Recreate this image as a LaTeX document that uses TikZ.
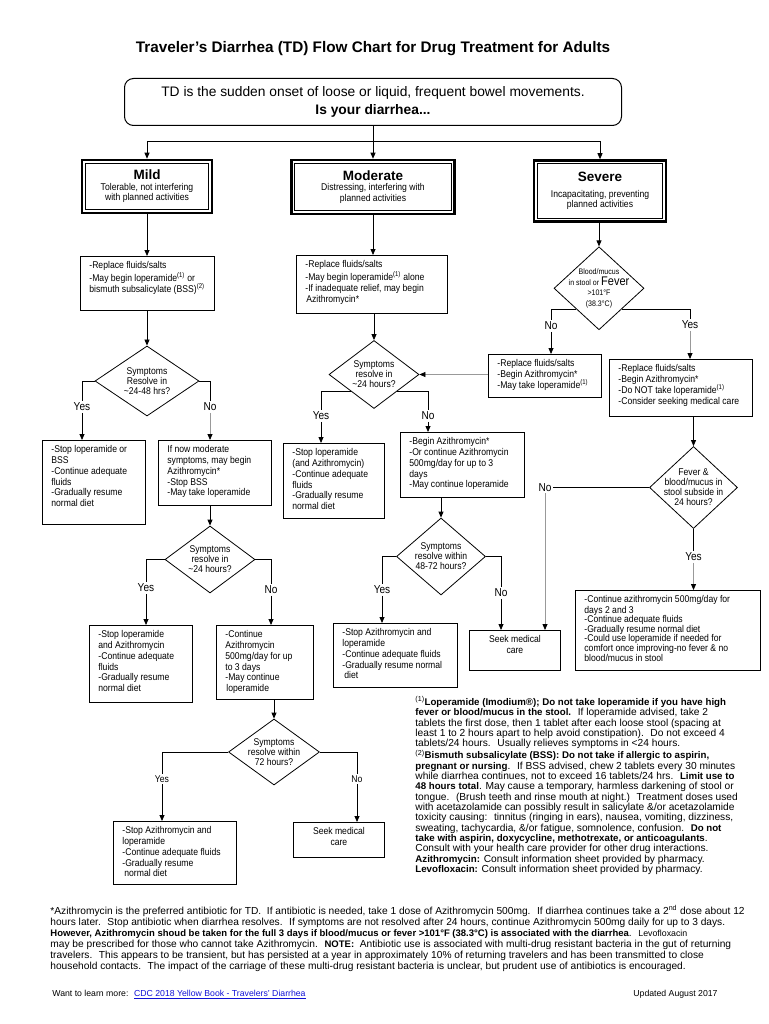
\documentclass[tikz,border=0pt]{standalone}
\usepackage{fontspec}
\setmainfont{Liberation Sans}
\newfontfamily\nar[FakeStretch=0.88]{Liberation Sans}
\usetikzlibrary{shapes,arrows.meta,calc}
\definecolor{linkblue}{RGB}{16,16,214}
\newcommand{\boxtxt}[4][\raggedright]{\parbox[t][#3pt][t]{#2pt}{#1\strut#4}}
\newcommand{\supn}[1]{\textsuperscript{#1}}
\newcommand{\bft}[2][9.7]{{\fontsize{#1}{10}\selectfont\bfseries #2}}

\begin{document}
\begin{tikzpicture}
  [x=1pt,y=-1pt,line width=.8pt,
   boxN/.style={draw,anchor=north west,inner xsep=9pt,inner ysep=4.7pt,font=\nar\fontsize{9.8}{10.8}\selectfont},
   lvlN/.style={draw,line width=2.6pt,align=center,font=\nar\fontsize{9.8}{10.6}\selectfont},
   decN/.style={diamond,draw,inner sep=-8pt,align=center,font=\nar\fontsize{9.8}{10}\selectfont},
   ansN/.style={inner sep=1.5pt,font=\nar\fontsize{11.5}{12}\selectfont},
   noteN/.style={anchor=base west,inner sep=0pt},
   arr/.style={-{Triangle[length=6pt,width=5pt]}},
   garr/.style={draw=black!40,-{Triangle[length=6pt,width=5pt,color=black]}},
  ]
  \useasboundingbox (0,0) rectangle (768,1024);

  \node[font=\bfseries\fontsize{15.3}{18}\selectfont] (title) at (373,49)
    {Traveler's Diarrhea (TD) Flow Chart for Drug Treatment for Adults};
  \node[draw,line width=1pt,rounded corners=9pt,minimum width=497pt,minimum height=47pt,
    align=center,font=\fontsize{13.8}{17.6}\selectfont] (intro) at (373,102)
    {TD is the sudden onset of loose or liquid, frequent bowel movements.\\
     \textbf{Is your diarrhea...}};

  \node[lvlN,minimum width=130pt,minimum height=53pt] (mild) at (147,186.5)
    {{\normalfont\bfseries\fontsize{13.5}{14}\selectfont Mild}\\Tolerable, not interfering\\with planned activities};
  \node[lvlN,minimum width=163pt,minimum height=54pt] (moderate) at (373,187)
    {{\normalfont\bfseries\fontsize{13.5}{14}\selectfont Moderate}\\Distressing, interfering with\\planned activities};
  \node[lvlN,minimum width=132pt,minimum height=61pt] (severe) at (600,191)
    {{\normalfont\bfseries\fontsize{13.5}{14}\selectfont Severe}\\[5pt]Incapacitating, preventing\\planned activities};
  \foreach \n in {mild,moderate,severe}
    \draw[line width=.7pt] ([shift={(4.6pt,-4.6pt)}]\n.north west) rectangle ([shift={(-4.6pt,4.6pt)}]\n.south east);

  \node[boxN] (mtreat) at (80,256) {\boxtxt{116}{44.6}{-Replace fluids/salts\\-May begin loperamide\supn{(1)} or\\bismuth subsalicylate (BSS)\supn{(2)}}};
  \node[decN,minimum width=104pt,minimum height=70pt] (d1) at (147,381) {Symptoms\\Resolve in\\\textasciitilde24-48 hrs?};
  \node[ansN] (y1) at (82,407) {Yes};
  \node[ansN] (n1) at (210,407) {No};
  \node[boxN] (myes) at (42,440) {\boxtxt{85}{74.6}{-Stop loperamide or\\BSS\\-Continue adequate\\fluids\\-Gradually resume\\normal diet}};
  \node[boxN] (mno) at (158,440) {\boxtxt{95}{55.6}{If now moderate\\symptoms, may begin\\Azithromycin*\\-Stop BSS\\-May take loperamide}};
  \node[decN,minimum width=90pt,minimum height=67pt] (d6) at (210,559.5) {Symptoms\\resolve in\\\textasciitilde24 hours?};
  \node[ansN] (y2) at (146,588) {Yes};
  \node[ansN] (n2) at (271,590) {No};
  \node[boxN] (mnoyes) at (89,625) {\boxtxt{85}{67.6}{-Stop loperamide\\and Azithromycin\\-Continue adequate\\fluids\\-Gradually resume\\normal diet}};
  \node[boxN] (mnono) at (216,625) {\boxtxt{79}{64.6}{-Continue\\Azithromycin\\500mg/day for up\\to 3 days\\-May continue\\\hspace*{1pt}loperamide}};
  \node[decN,minimum width=91pt,minimum height=66pt] (d7) at (274,752) {Symptoms\\resolve within\\72 hours?};
  \node[ansN,font=\nar\fontsize{9.8}{10}\selectfont] (y3) at (162,779) {Yes};
  \node[ansN,font=\nar\fontsize{9.8}{10}\selectfont] (n3) at (357,779) {No};
  \node[boxN] (botyes) at (113,821) {\boxtxt{105}{53.6}{-Stop Azithromycin and\\loperamide\\-Continue adequate fluids\\-Gradually resume\\\hspace*{2pt}normal diet}};
  \node[boxN] (botno) at (293,822) {\boxtxt[\centering]{73}{25.6}{Seek medical\\care}};

  \node[boxN] (modtreat) at (296,255) {\boxtxt{133}{48.6}{-Replace fluids/salts\\-May begin loperamide\supn{(1)} alone\\-If inadequate relief, may begin\\\hspace*{1pt}Azithromycin*}};
  \node[decN,minimum width=90pt,minimum height=68pt] (d2) at (374,374.5) {Symptoms\\resolve in\\\textasciitilde24 hours?};
  \node[ansN] (y4) at (321,416) {Yes};
  \node[ansN] (n4) at (428,416) {No};
  \node[boxN] (modyes) at (283,443) {\boxtxt{83}{65.6}{-Stop loperamide\\(and Azithromycin)\\-Continue adequate\\fluids\\-Gradually resume\\normal diet}};
  \node[boxN] (modno) at (400,432) {\boxtxt{106}{55.6}{-Begin Azithromycin*\\-Or continue Azithromycin\\500mg/day for up to 3\\days\\-May continue loperamide}};
  \node[decN,minimum width=89pt,minimum height=77pt] (d5) at (441,556.5) {Symptoms\\resolve within\\48-72 hours?};
  \node[ansN] (y5) at (382,590) {Yes};
  \node[ansN] (n5) at (501,593) {No};
  \node[boxN] (modyes2) at (333,623) {\boxtxt{106}{54.6}{-Stop Azithromycin and\\loperamide\\-Continue adequate fluids\\-Gradually resume normal\\\hspace*{2pt}diet}};
  \node[boxN] (seek) at (469,630) {\boxtxt[\centering]{73}{30.6}{Seek medical\\care}};

  \node[decN,minimum width=90pt,minimum height=83pt,font=\nar\fontsize{8}{10.7}\selectfont] (d3) at (599,288.3)
    {Blood/mucus\\in stool or {\fontsize{12.5}{10.7}\selectfont Fever}\\>101°F\\(38.3°C)};
  \node[ansN] (n6) at (551,326) {No};
  \node[ansN] (y6) at (690,325) {Yes};
  \node[boxN] (sevno) at (488,354) {\boxtxt{95}{33.6}{-Replace fluids/salts\\-Begin Azithromycin*\\-May take loperamide\supn{(1)}}};
  \node[boxN] (sevyes) at (609,359) {\boxtxt{125}{47.6}{-Replace fluids/salts\\-Begin Azithromycin*\\-Do NOT take loperamide\supn{(1)}\\-Consider seeking medical care}};
  \node[decN,minimum width=88pt,minimum height=82pt] (d4) at (693.5,487.5) {Fever \&\\blood/mucus in\\stool subside in\\24 hours?};
  \node[ansN] (n7) at (545,487.5) {No};
  \node[ansN] (y7) at (693.5,557) {Yes};
  \node[boxN,font=\nar\fontsize{9.8}{9.6}\selectfont] (sevfinal) at (575,590) {\boxtxt{167}{70.6}{-Continue azithromycin 500mg/day for\\days 2 and 3\\-Continue adequate fluids\\-Gradually resume normal diet\\-Could use loperamide if needed for\\comfort once improving-no fever \& no\\blood/mucus in stool}};

  \coordinate (fork) at ($(intro.south)+(0,15)$);
  \draw[arr] (intro) -- (moderate);
  \draw[arr] (fork) -| (mild);
  \draw[arr] (fork) -| (severe);

  \draw[arr] (mild) -- (mild |- mtreat.north);
  \draw[arr] (d1.north |- mtreat.south) -- (d1);
  \draw (d1.west) -| (y1);
  \draw (d1.east) -| (n1);
  \draw[arr] (y1) -- (y1 |- myes.north);
  \draw[garr] (n1) -- (n1 |- mno.north);
  \draw[arr] (d6.north |- mno.south) -- (d6);
  \draw (d6.west) -| (y2);
  \draw (d6.east) -| (n2);
  \draw[arr] (y2) -- (y2 |- mnoyes.north);
  \draw[arr] (n2) -- (n2 |- mnono.north);
  \draw[arr] (d7.north |- mnono.south) -- (d7);
  \draw (d7.west) -| (y3);
  \draw (d7.east) -| (n3);
  \draw[arr] (y3) -- (y3 |- botyes.north);
  \draw[arr] (n3) -- (n3 |- botno.north);

  \draw[arr] (moderate) -- (moderate |- modtreat.north);
  \draw[arr] (d2.north |- modtreat.south) -- (d2);
  \draw (d2.south west) -| (y4);
  \draw (d2.south east) -| (n4);
  \draw[arr] (y4) -- (y4 |- modyes.north);
  \draw[arr] (n4) -- (n4 |- modno.north);
  \draw[arr] (d5.north |- modno.south) -- (d5);
  \draw (d5.west) -| (y5);
  \draw (d5.east) -| (n5);
  \draw[arr] (y5) -- (y5 |- modyes2.north);
  \draw[arr] (n5) -- (n5 |- seek.north);

  \draw[arr] (d3.north |- severe.south) -- (d3);
  \draw (d3.south west) -| (n6);
  \draw (d3.south east) -| (y6);
  \draw[arr] (n6) -- (n6 |- sevno.north);
  \draw[garr] (y6) -- (y6 |- sevyes.north);
  \draw[garr] (sevno.west |- d2.east) -- (d2.east);
  \draw[arr] (d4.north |- sevyes.south) -- (d4);
  \draw (d4.west) -- (n7);
  \draw[garr] (n7) -- (n7 |- seek.north);
  \draw (d4) -- (y7);
  \draw[garr] (y7) -- (y7 |- sevfinal.north);

  \node[noteN,font=\fontsize{10.2}{10.35}\selectfont] (notes) at (415,705.5) {\parbox[t]{350pt}{\raggedright
    \supn{(1)}\bft{Loperamide (Imodium®); Do not take loperamide if you have high}\\
    \bft{fever or blood/mucus in the stool.}~ If loperamide advised, take 2\\
    tablets the first dose, then 1 tablet after each loose stool (spacing at\\
    least 1 to 2 hours apart to help avoid constipation).~ Do not exceed 4\\
    tablets/24 hours.~ Usually relieves symptoms in <24 hours.\\
    \supn{(2)}\bft{Bismuth subsalicylate (BSS): Do not take if allergic to aspirin,}\\
    \bft{pregnant or nursing}.~ If BSS advised, chew 2 tablets every 30 minutes\\
    while diarrhea continues, not to exceed 16 tablets/24 hrs.~ \bft{Limit use to}\\
    \bft{48 hours total}. May cause a temporary, harmless darkening of stool or\\
    tongue.~ (Brush teeth and rinse mouth at night.)~ Treatment doses used\\
    with acetazolamide can possibly result in salicylate \&/or acetazolamide\\
    toxicity causing:~ tinnitus (ringing in ears), nausea, vomiting, dizziness,\\
    sweating, tachycardia, \&/or fatigue, somnolence, confusion.~ \bft{Do not}\\
    \bft{take with aspirin, doxycycline, methotrexate, or anticoagulants}.\\
    Consult with your health care provider for other drug interactions.\\
    \bft{Azithromycin:} Consult information sheet provided by pharmacy.\\
    \bft{Levofloxacin:} Consult information sheet provided by pharmacy.}};

  \node[noteN,font=\fontsize{10.2}{11}\selectfont] (azi) at (50,914.5) {\parbox[t]{716pt}{\raggedright
    *Azithromycin is the preferred antibiotic for TD.~ If antibiotic is needed, take 1 dose of Azithromycin 500mg.~ If diarrhea continues take a 2\supn{nd} dose about 12\\
    hours later.~ Stop antibiotic when diarrhea resolves.~ If symptoms are not resolved after 24 hours, continue Azithromycin 500mg daily for up to 3 days.\\
    \bft[9.5]{However, Azithromycin shoud be taken for the full 3 days if blood/mucus or fever >101°F (38.3°C) is associated with the diarrhea}.~ {\fontsize{8.8}{10}\selectfont Levofloxacin}\\
    may be prescribed for those who cannot take Azithromycin.~ \bft[9.5]{NOTE:}~ Antibiotic use is associated with multi-drug resistant bacteria in the gut of returning\\
    travelers.~ This appears to be transient, but has persisted at a year in approximately 10\% of returning travelers and has been transmitted to close\\
    household contacts.~ The impact of the carriage of these multi-drug resistant bacteria is unclear, but prudent use of antibiotics is encouraged.}};

  \node[noteN,font=\fontsize{8.7}{10}\selectfont] (more) at (52,996.5)
    {Want to learn more:~ \textcolor{linkblue}{\underline{CDC 2018 Yellow Book - Travelers' Diarrhea}}};
  \node[noteN,font=\fontsize{8.7}{10}\selectfont] (upd) at (633,996.5) {Updated August 2017};
\end{tikzpicture}
\end{document}
